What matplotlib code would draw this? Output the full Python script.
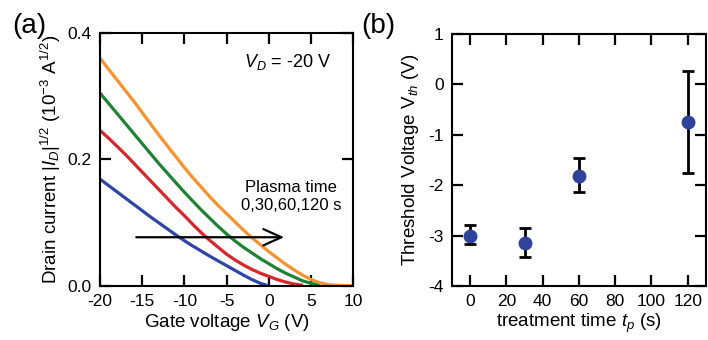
import numpy as np
import matplotlib
matplotlib.use('Agg')
import matplotlib.pyplot as plt

plt.rcParams['font.family'] = ['Liberation Sans', 'DejaVu Sans']
plt.rcParams['mathtext.fontset'] = 'custom'
plt.rcParams['mathtext.rm'] = 'Liberation Sans'
plt.rcParams['mathtext.it'] = 'Liberation Sans:italic'
plt.rcParams['axes.unicode_minus'] = False

nan = np.nan

# (a) transfer curves, sqrt(|I_D|) in 1e-3 A^1/2 vs gate voltage (-20..10 V, 1 V steps)
gate_v = np.arange(-20, 11, 1)
i_0s = [0.169, 0.159, 0.149, 0.139, 0.129, 0.119, 0.109, 0.0995, 0.090, 0.0805,
        0.0715, 0.063, 0.055, 0.047, 0.0395, 0.032, 0.0245, 0.017, 0.010, 0.004,
        0.000, nan, nan, nan, nan, nan, nan, nan, nan, nan, nan]
i_30s = [0.246, 0.234, 0.221, 0.208, 0.194, 0.180, 0.166, 0.152, 0.138, 0.124,
         0.111, 0.097, 0.084, 0.072, 0.061, 0.050, 0.041, 0.033, 0.026, 0.020,
         0.015, 0.010, 0.006, 0.003, 0.001, nan, nan, nan, nan, nan, nan]
i_60s = [0.305, 0.289, 0.273, 0.257, 0.241, 0.225, 0.209, 0.193, 0.178, 0.163,
         0.148, 0.134, 0.120, 0.107, 0.094, 0.082, 0.071, 0.061, 0.052, 0.043,
         0.035, 0.027, 0.020, 0.014, 0.008, 0.004, 0.001, nan, nan, nan, nan]
i_120s = [0.360, 0.343, 0.326, 0.309, 0.292, 0.274, 0.256, 0.238, 0.221, 0.204,
          0.187, 0.171, 0.156, 0.141, 0.127, 0.114, 0.101, 0.088, 0.076, 0.065,
          0.054, 0.044, 0.034, 0.025, 0.017, 0.010, 0.005, 0.002, 0.001, 0.0005, 0.0005]
curve_colors = ['#2E45A5', '#D8262B', '#1F8235', '#F7922F']

# (b) threshold voltage vs treatment time
t_p = [0, 30, 60, 120]
v_th = [-3.0, -3.14, -1.81, -0.75]
v_th_top = [-2.80, -2.85, -1.46, 0.27]
v_th_bot = [-3.17, -3.43, -2.13, -1.75]

fig = plt.figure(figsize=(7.08, 3.40), dpi=100)
ax1 = fig.add_axes([0.1412, 0.159, 0.358, 0.744])
ax2 = fig.add_axes([0.6384, 0.159, 0.3586, 0.741])

for ax in (ax1, ax2):
    for s in ax.spines.values():
        s.set_linewidth(1.5)
    ax.tick_params(direction='in', length=8, width=1.6, top=True, right=True,
                   labelsize=12.5, pad=6)

for vals, c in zip([i_0s, i_30s, i_60s, i_120s], curve_colors):
    ax1.plot(gate_v, vals, color=c, lw=2.3, solid_capstyle='butt')

ax1.set_xlim(-20, 10)
ax1.set_ylim(0, 0.4)
ax1.set_xticks([-20, -15, -10, -5, 0, 5, 10])
ax1.set_yticks([0.0, 0.2, 0.4])
ax1.set_yticklabels(['0.0', '0.2', '0.4'])
ax1.set_xlabel(r'Gate voltage $V_G$ (V)', fontsize=13.5, labelpad=2)
ax1.set_ylabel(r'Drain current $|I_D|^{1/2}$ (10$^{-3}$ A$^{1/2}$)', fontsize=13.5, labelpad=3)

ax1.text(2.2, 0.354, r'$V_D$ = -20 V', fontsize=13, ha='center', va='center')
ax1.text(2.6, 0.142, 'Plasma time\n0,30,60,120 s', fontsize=12, ha='center', va='center',
         linespacing=1.25)
ax1.annotate('', xy=(1.8, 0.077), xytext=(-15.7, 0.077),
             arrowprops=dict(arrowstyle='->,head_length=1.0,head_width=0.45', lw=1.6,
                             color='black', shrinkA=0, shrinkB=0, mutation_scale=13))

ax2.errorbar(t_p, v_th,
             yerr=[np.array(v_th) - np.array(v_th_bot), np.array(v_th_top) - np.array(v_th)],
             fmt='none', ecolor='black', elinewidth=2, capsize=4.5, capthick=2, zorder=2)
ax2.plot(t_p, v_th, 'o', color='#2F439A', markersize=9, zorder=3)
ax2.set_xlim(-10, 130)
ax2.set_ylim(-4, 1)
ax2.set_xticks([0, 20, 40, 60, 80, 100, 120])
ax2.set_yticks([-4, -3, -2, -1, 0, 1])
ax2.set_xlabel(r'treatment time $t_p$ (s)', fontsize=13.5, labelpad=2)
ax2.set_ylabel(r'Threshold Voltage V$_{th}$ (V)', fontsize=13.5, labelpad=5)

fig.text(0.041, 0.923, '(a)', fontsize=20, ha='center', va='center')
fig.text(0.535, 0.923, '(b)', fontsize=20, ha='center', va='center')

fig.savefig('out.png', dpi=100)
